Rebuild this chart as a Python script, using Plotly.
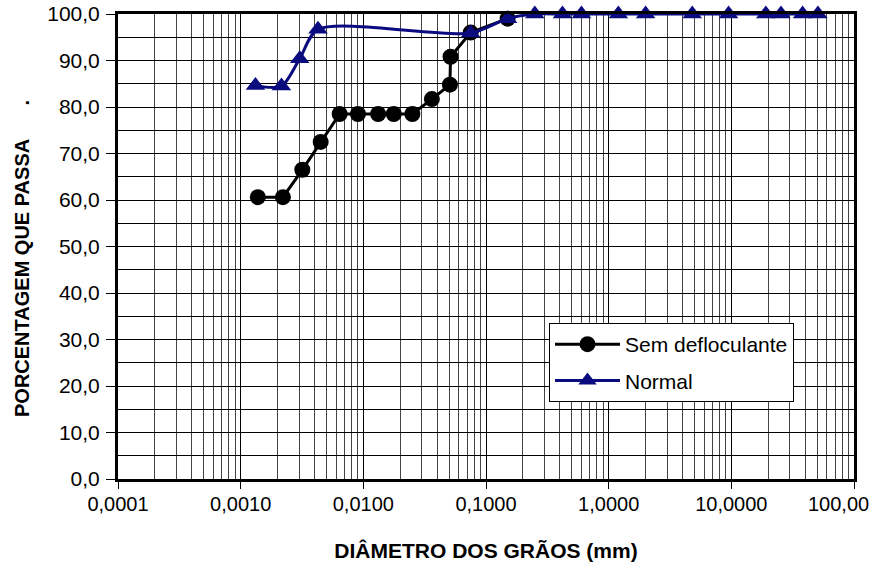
import plotly.graph_objects as go

# ---- data ----
sem_x = [0.00138, 0.00221, 0.00318, 0.00449, 0.00641, 0.00904, 0.0132, 0.0177, 0.0251,
         0.0362, 0.0508, 0.0514, 0.075, 0.15]
sem_y = [60.6, 60.6, 66.5, 72.5, 78.5, 78.5, 78.5, 78.5, 78.5,
         81.7, 84.8, 90.8, 96.0, 99.0]
normal_x = [0.00132, 0.00215, 0.00303, 0.00427, 0.075, 0.15, 0.25, 0.42, 0.6, 1.2, 2.0,
            4.8, 9.5, 19.1, 25.4, 38.1, 50.8]
normal_y = [84.6, 84.5, 90.4, 96.7, 95.9, 99.0, 100.0, 100.0, 100.0, 100.0, 100.0,
            100.0, 100.0, 100.0, 100.0, 100.0, 100.0]

x_tickvals = [0.0001, 0.001, 0.01, 0.1, 1, 10, 100]
x_ticktext = ["0,0001", "0,0010", "0,0100", "0,1000", "1,0000", "10,0000", "100,00"]
y_tickvals = [0, 10, 20, 30, 40, 50, 60, 70, 80, 90, 100]
y_ticktext = ["0,0", "10,0", "20,0", "30,0", "40,0", "50,0", "60,0", "70,0", "80,0", "90,0", "100,0"]

FONT = "Liberation Sans, Arial, sans-serif"
BLUE = "#0b0b80"

W, H = 878, 562
PL, PR, PT, PB = 118, 854, 14, 479   # plot area in window pixels
ML, MR, MT, MB = PL, W - PR, PT, H - PB


def px_to_paper_x(px):
    return (px - PL) / (PR - PL)


def px_to_paper_y(py):
    return (PB - py) / (PB - PT)


fig = go.Figure()
fig.add_trace(go.Scatter(
    x=sem_x, y=sem_y, name="Sem defloculante", mode="lines+markers",
    line=dict(color="black", width=3),
    marker=dict(symbol="circle", size=16, color="black"),
    cliponaxis=False, legendgroup="a"))
fig.add_trace(go.Scatter(
    x=normal_x, y=normal_y, name="Normal", mode="lines+markers",
    line=dict(color=BLUE, width=3, shape="spline", smoothing=0.8),
    marker=dict(symbol="triangle-up", size=17, color=BLUE),
    cliponaxis=False, legendgroup="b"))

# last x tick label: right-aligned against the window edge, as in the original
fig.add_annotation(x=px_to_paper_x(871), y=0, xref="paper", yref="paper", text=x_ticktext[-1],
                   showarrow=False, xanchor="right", yanchor="top", yshift=-12,
                   font=dict(family=FONT, size=20, color="black"))

# y-axis title
fig.add_annotation(x=px_to_paper_x(22), y=px_to_paper_y(259), xref="paper", yref="paper",
                   text="<b>PORCENTAGEM QUE PASSA" + "\u00a0" * 6 + ".</b>",
                   textangle=-90, showarrow=False, xanchor="center", yanchor="middle",
                   font=dict(family=FONT, size=20, color="black"))

fig.update_layout(
    width=W, height=H,
    margin=dict(l=ML, r=MR, t=MT, b=MB, autoexpand=False),
    paper_bgcolor="white", plot_bgcolor="white",
    font=dict(family=FONT, size=20, color="black"),
    showlegend=True,
    legend=dict(x=px_to_paper_x(549), y=px_to_paper_y(323), xanchor="left", yanchor="top",
                bgcolor="white", bordercolor="black", borderwidth=1,
                font=dict(family=FONT, size=21, color="black"),
                itemwidth=65, tracegroupgap=6),
)

fig.update_xaxes(
    type="log", range=[-4, 2], automargin=False,
    tickvals=x_tickvals,
    ticktext=x_ticktext[:-1] + [""],
    tickfont=dict(family=FONT, size=20),
    ticks="outside", ticklen=7, tickcolor="black", tickwidth=1,
    ticklabelstandoff=-2,
    showgrid=True, gridcolor="black", gridwidth=1,
    minor=dict(dtick="D1", showgrid=True, gridcolor="#444", gridwidth=1, ticks=""),
    showline=True, linecolor="black", linewidth=3, mirror=True,
    zeroline=False,
    title=dict(text="<b>DIÂMETRO DOS GRÃOS (mm)</b>", font=dict(family=FONT, size=21), standoff=30),
)
fig.update_yaxes(
    range=[0, 100], automargin=False,
    tickvals=y_tickvals, ticktext=y_ticktext,
    tickfont=dict(family=FONT, size=21),
    ticks="outside", ticklen=9, tickcolor="black", tickwidth=1,
    ticklabelstandoff=2,
    showgrid=True, gridcolor="black", gridwidth=1,
    minor=dict(dtick=5, tick0=0, showgrid=True, gridcolor="black", gridwidth=1, ticks=""),
    showline=True, linecolor="black", linewidth=3, mirror=True,
    zeroline=False,
)

fig.write_html("out.html", config={"displayModeBar": False},
               post_script="document.body.style.margin='0';document.body.style.padding='0';")
